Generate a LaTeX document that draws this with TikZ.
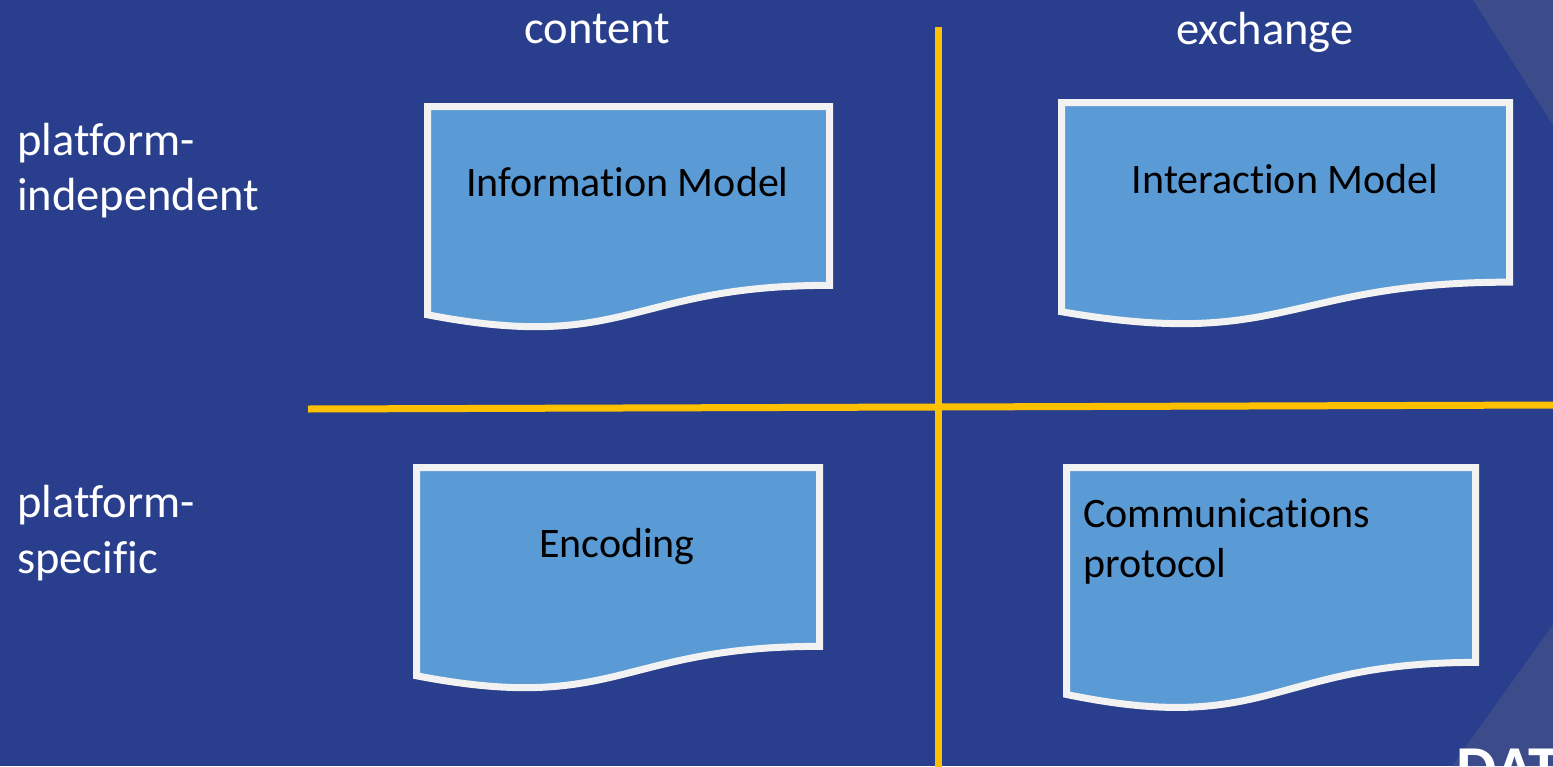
\documentclass[tikz,border=0pt]{standalone}
\usepackage{fontspec}
\setmainfont{Carlito}[Ligatures=NoCommon]
\usetikzlibrary{positioning}

\definecolor{bgblue}{HTML}{293E8C}
\definecolor{shadeblue}{HTML}{3C4B8A}
\definecolor{docblue}{HTML}{5B9BD5}
\definecolor{docedge}{HTML}{F2F2F2}
\definecolor{axisyellow}{HTML}{FFC000}

\tikzset{
  docfill/.style={fill=docblue, draw=docedge, line width=7pt, line join=miter},
  axisline/.style={axisyellow, line width=7pt},
  headlabel/.style={text=white, inner sep=0pt, font=\fontsize{46.5}{55}\selectfont},
  rowlabel/.style={text=white, inner sep=0pt, anchor=base west, font=\fontsize{46.5}{55}\selectfont},
  boxtext/.style={text=black, inner sep=0pt, font=\fontsize{42}{50}\selectfont}
}

% document shape: top left corner, width, height
\newcommand{\docshape}[4]{%
  \draw[docfill] (#1,#2) -- ({#1+#3},#2) -- ({#1+#3},{#2+0.802*#4})
    .. controls ({#1+0.5*#3},{#2+0.802*#4}) and ({#1+0.5*#3},{#2+1.1075*#4})
    .. (#1,{#2+0.934*#4}) -- cycle;}

\begin{document}
\begin{tikzpicture}[x=1pt, y=-1pt]
    \useasboundingbox (0,0) rectangle (1553,766);
    \clip (0,0) rectangle (1553,766);
    \fill[bgblue] (0,0) rectangle (1553,766);
    \fill[shadeblue] (1473,0) -- (1560,136) -- (1560,0) -- cycle;
    \fill[shadeblue] (1560,615) -- (1452,766) -- (1560,766) -- cycle;

    % quadrant axes
    \coordinate (vtop) at (938,27);
    \coordinate (vbot) at (938,775);
    \coordinate (hleft) at (308,409);
    \coordinate (hright) at (1560,405);
    \draw[axisline] (vtop) -- (vbot);
    \draw[axisline] (hleft) -- (hright);

    % column and row labels
    \node[headlabel, anchor=base] (content) at (597,43) {content};
    \node[headlabel, anchor=base] (exchange) at (1265,44) {exchange};
    \node[rowlabel] (indepA) at (17,155) {platform-};
    \node[rowlabel] (indepB) at (17,210) {independent};
    \node[rowlabel] (specA) at (17,517) {platform-};
    \node[rowlabel] (specB) at (17,573) {specific};

    % the four models
    \docshape{427.5}{106.5}{402}{223}
    \docshape{1061.5}{102.5}{448}{224}
    \docshape{416.5}{467.5}{403}{223}
    \docshape{1066.5}{467.5}{409}{243}

    \node[boxtext, anchor=base] (infomodel) at (627.5,196) {Information Model};
    \node[boxtext, anchor=base] (interaction) at (1285,193) {Interaction Model};
    \node[boxtext, anchor=base] (encoding) at (617,557) {Encoding};
    \node[boxtext, anchor=base west] (commsA) at (1083,527) {Communications};
    \node[boxtext, anchor=base west] (commsB) at (1083,577) {protocol};

    \node[text=white, inner sep=0pt, anchor=base west, font=\fontsize{64}{70}\bfseries] (brand) at (1456,790) {DAT};
\end{tikzpicture}
\end{document}
